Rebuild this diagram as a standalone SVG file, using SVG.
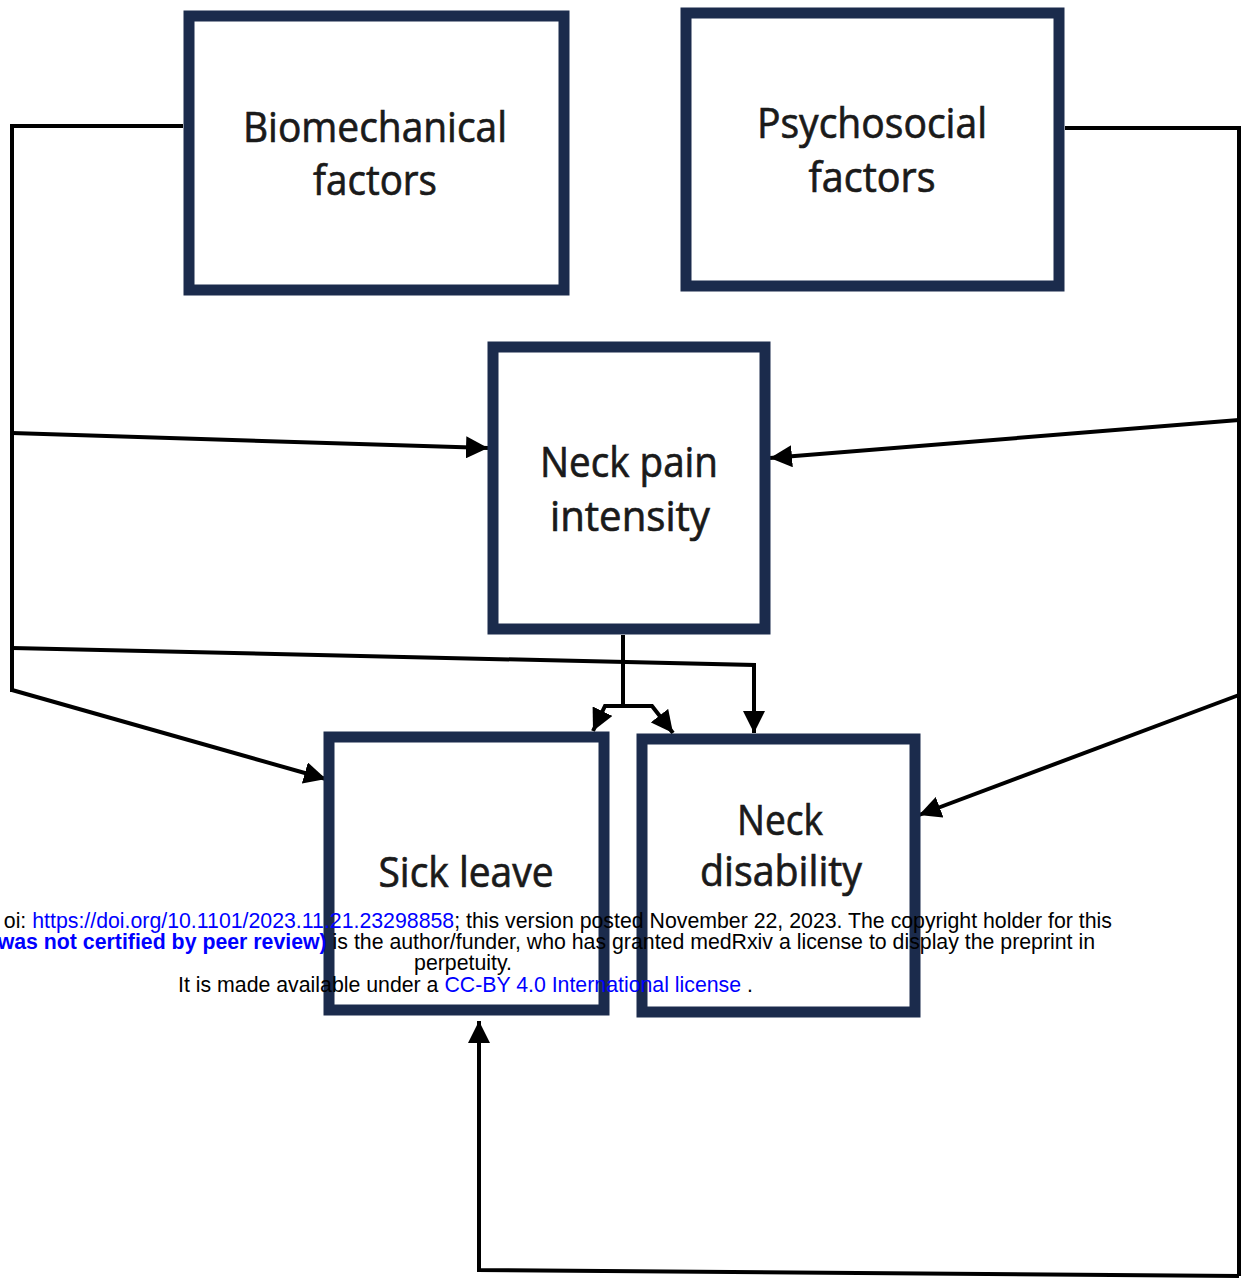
<svg xmlns="http://www.w3.org/2000/svg" width="1246" height="1281" viewBox="0 0 1246 1281">
<defs>
<marker id="ah" markerUnits="userSpaceOnUse" markerWidth="24" markerHeight="22" refX="22" refY="11" orient="auto">
<path d="M0,0 L22,11 L0,22 Z" fill="#000"/>
</marker>
<style>
.box{fill:#fff;stroke:#1b2b4c;stroke-width:11}
.lbl{font-family:"Open Sans","Noto Sans",sans-serif;font-size:42px;fill:#1a1a1a;stroke:#1a1a1a;stroke-width:0.7;text-anchor:middle}
.c{fill:none;stroke:#000;stroke-width:4;stroke-linejoin:miter}
.a{marker-end:url(#ah)}
.wm{font-family:"Liberation Sans",Arial,sans-serif;font-size:21.3px;fill:#000}
.bl{fill:#0000ff}
</style>
</defs>
<rect width="1246" height="1281" fill="#fff"/>
<g id="connectors">
<polyline class="c" points="183,126 12,126 12,692"/>
<line class="c a" x1="12" y1="433" x2="488" y2="448"/>
<polyline class="c a" points="12,648 754,665 754,733"/>
<line class="c a" x1="12" y1="690" x2="326" y2="779"/>
<polyline class="c" points="1065,128 1239,128 1239,1276"/>
<line class="c a" x1="1239" y1="420" x2="770" y2="458"/>
<line class="c a" x1="1239" y1="695" x2="919" y2="815"/>
<polyline class="c a" points="1239,1276 479,1270 479,1021"/>
<polyline class="c" points="623,635 623,706"/>
<polyline class="c a" points="625,706 605,706 593,731"/>
<polyline class="c a" points="621,706 652,706 673,733"/>
</g>
<g id="biomechanical">
<rect class="box" x="189" y="16" width="375" height="274"/>
<text class="lbl" x="375" y="142" textLength="264" lengthAdjust="spacingAndGlyphs">Biomechanical</text>
<text class="lbl" x="375" y="195" textLength="124" lengthAdjust="spacingAndGlyphs">factors</text>
</g>
<g id="psychosocial">
<rect class="box" x="686" y="13" width="373" height="273"/>
<text class="lbl" x="872" y="138" textLength="230" lengthAdjust="spacingAndGlyphs">Psychosocial</text>
<text class="lbl" x="872" y="192" textLength="127" lengthAdjust="spacingAndGlyphs">factors</text>
</g>
<g id="neck-pain">
<rect class="box" x="493" y="347" width="272" height="282"/>
<text class="lbl" x="629" y="477" textLength="178" lengthAdjust="spacingAndGlyphs">Neck pain</text>
<text class="lbl" x="630" y="531" textLength="160" lengthAdjust="spacingAndGlyphs">intensity</text>
</g>
<g id="sick-leave">
<rect class="box" x="329" y="737" width="275" height="273"/>
<text class="lbl" x="466" y="887" textLength="175" lengthAdjust="spacingAndGlyphs">Sick leave</text>
</g>
<g id="neck-disability">
<rect class="box" x="642" y="739" width="273" height="273"/>
<text class="lbl" x="780" y="835" textLength="86" lengthAdjust="spacingAndGlyphs">Neck</text>
<text class="lbl" x="781" y="886" textLength="162" lengthAdjust="spacingAndGlyphs">disability</text>
</g>
<g id="watermark">
<text class="wm" x="1112" y="928" text-anchor="end">oi: <tspan class="bl">https://doi.org/10.1101/2023.11.21.23298858</tspan>; this version posted November 22, 2023. The copyright holder for this</text>
<text class="wm" x="1095" y="949" text-anchor="end"><tspan class="bl" font-weight="bold">was not certified by peer review)</tspan> is the author/funder, who has granted medRxiv a license to display the preprint in</text>
<text class="wm" x="463" y="970" text-anchor="middle">perpetuity.</text>
<text class="wm" x="178" y="992">It is made available under a <tspan class="bl">CC-BY 4.0 International license</tspan> .</text>
</g>
</svg>
